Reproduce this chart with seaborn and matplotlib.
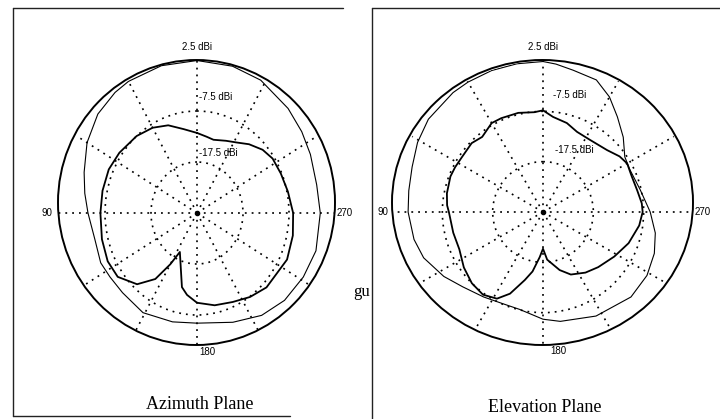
import numpy as np
import pandas as pd
import matplotlib
matplotlib.use("Agg")
import matplotlib.pyplot as plt
import seaborn as sns
from matplotlib.lines import Line2D
from matplotlib.patches import Ellipse

# ---------------- data (dBi, angle in degrees, 0 = top, counter-clockwise) ----------------
az_outer_deg = [0, 15, 30, 37, 48, 60, 72, 81, 90, 103, 115, 123.5, 134, 149, 166, 180, 200, 215,
                228, 241.5, 254, 270, 282, 295, 305, 316, 332, 345, 360]
az_outer_dbi = [2.4, 2.4, 2.3, 2.1, 1.5, 0.1, -1.7, -2.8, -3.8, -4.7, -4.4, -4.8, -5.0, -4.7, -5.5, -5.9,
                -4.7, -3.0, -1.9, -1.2, -0.6, -0.7, -0.9, -0.3, 0.3, 1.0, 2.0, 2.3, 2.4]

az_inner_deg = [0, 10, 20, 30, 41, 55, 66, 78, 90, 104, 116, 126, 137, 145, 150, 154, 162.6, 167.3,
                172.3, 180, 192, 204, 215, 226, 245, 258, 270, 282, 293, 303, 311, 320, 328, 336,
                346, 352, 360]
az_inner_dbi = [-11.8, -10.8, -9.2, -8.2, -7.5, -6.9, -6.5, -6.5, -6.5, -6.2, -5.9, -6.2, -8.4, -11.7,
                -15.9, -19.0, -15.8, -12.6, -11.3, -9.9, -9.0, -8.4, -7.4, -6.5, -5.9, -6.2, -6.6,
                -7.3, -7.7, -7.9, -8.6, -9.9, -11.2, -12.0, -12.7, -12.4, -11.8]

el_outer_deg = [0, 10, 20, 30, 37, 51, 61, 71, 81, 90, 102, 111, 123, 133, 145, 156, 166.5, 180, 189,
                207, 226, 238.6, 249.6, 259.4, 270, 283, 296, 304, 313, 322, 330, 338, 348, 355, 360]
el_outer_dbi = [2.4, 2.4, 2.4, 2.3, 2.2, 1.8, 1.0, 0.0, -0.5, -0.7, -1.3, -2.1, -4.0, -5.7, -6.9, -7.6,
                -7.6, -6.2, -5.5, -4.3, -3.2, -3.3, -3.9, -4.8, -6.2, -7.7, -8.3, -7.9, -5.7, -3.5,
                -1.1, 0.8, 1.3, 2.0, 2.4]

el_inner_deg = [0, 5, 14, 24, 30, 39, 46, 56, 63, 69, 79, 86, 90, 103, 114, 125, 135, 144, 152, 158,
                165, 170, 175.8, 180, 185, 196, 204, 215, 225, 238, 250, 262, 270, 275, 283, 292,
                300, 306, 314, 327, 337, 345, 354, 360]
el_inner_dbi = [-7.3, -7.6, -7.2, -7.1, -7.1, -8.3, -7.8, -8.05, -7.9, -7.8, -8.05, -8.4, -8.8, -9.2,
                -9.3, -8.3, -7.5, -7.2, -8.0, -10.0, -13.5, -15.5, -18.5, -20.2, -18.0, -15.5, -13.9,
                -12.8, -12.0, -10.8, -9.4, -8.2, -7.7, -7.8, -8.3, -8.5, -8.2, -8.7, -9.8, -10.4,
                -10.2, -9.2, -8.5, -7.3]

ring_labels = ["2.5 dBi", "-7.5 dBi", "-17.5 dBi"]
angle_labels = ["90", "180", "270"]
titles = ["Azimuth Plane", "Elevation Plane"]

DB_MIN = -27.5  # value at the centre of the plot
DB_MAX = 2.5    # outer ring

# ---------------- figure ----------------
sns.set_theme(style="white")
plt.rcParams["font.family"] = ["Liberation Sans", "DejaVu Sans"]

W, H = 720, 419
fig = plt.figure(figsize=(W / 100, H / 100), dpi=100)
fig.patch.set_facecolor("white")


def rect(x0, y0, x1, y1):
    return [x0 / W, 1 - y1 / H, (x1 - x0) / W, (y1 - y0) / H]


def ftext(x, y, s, **kw):
    base = dict(fontsize=7, color="black")
    base.update(kw)
    fig.text(x / W, 1 - y / H, s, **base)


def panel(box, rim, o_deg, o_val, i_deg, i_val):
    ax = fig.add_axes(box, projection="polar")
    ax.set_aspect("auto")
    ax.set_facecolor("none")
    ax.set_theta_zero_location("N")
    ax.set_theta_direction(1)
    ax.set_ylim(0, DB_MAX - DB_MIN)
    ax.set_rticks([10, 20])
    ax.set_yticklabels([])
    ax.set_xticks([])
    ax.spines["polar"].set_visible(False)
    ax.yaxis.grid(True, color="black", linestyle=(0, (1.1, 3.0)), linewidth=1.2)
    ax.xaxis.grid(False)

    # outer (2.5 dBi) rim as drawn in the scanned plot
    cx, cy, w, h = rim
    ell = Ellipse((cx / W, 1 - cy / H), w / W, h / H, transform=fig.transFigure,
                  fill=False, edgecolor="black", linewidth=1.4, zorder=2)
    fig.add_artist(ell)

    # dotted spokes every 30 degrees, clipped at the rim
    for a in range(0, 360, 30):
        ln, = ax.plot([np.deg2rad(a)] * 2, [0, DB_MAX - DB_MIN], color="black",
                      linestyle=(0, (1.1, 3.0)), linewidth=1.2)
        ln.set_clip_path(ell)

    df_o = pd.DataFrame({"theta": np.deg2rad(o_deg), "r": np.array(o_val) - DB_MIN})
    df_i = pd.DataFrame({"theta": np.deg2rad(i_deg), "r": np.array(i_val) - DB_MIN})
    sns.lineplot(data=df_o, x="theta", y="r", sort=False, estimator=None,
                 color="black", linewidth=0.8, ax=ax)
    sns.lineplot(data=df_i, x="theta", y="r", sort=False, estimator=None,
                 color="black", linewidth=1.3, ax=ax)
    ax.plot([0], [0], marker="o", color="black", markersize=3)
    ax.set_xlabel("")
    ax.set_ylabel("")
    return ax


panel(rect(59, 60, 335, 366), (196.5, 202.5, 277, 285),
      az_outer_deg, az_outer_dbi, az_inner_deg, az_inner_dbi)
panel(rect(392, 61, 694, 363), (542.5, 202.5, 301, 285),
      el_outer_deg, el_outer_dbi, el_inner_deg, el_inner_dbi)

# ring / angle labels, left panel
ftext(197, 47, ring_labels[0], ha="center", va="center")
ftext(199, 97, ring_labels[1], ha="left", va="center")
ftext(199, 153, ring_labels[2], ha="left", va="center")
ftext(52, 213, angle_labels[0], ha="right", va="center")
ftext(199, 347, angle_labels[1], ha="left", va="top")
ftext(337, 213, angle_labels[2], ha="left", va="center")
# ring / angle labels, right panel
ftext(543, 47, ring_labels[0], ha="center", va="center")
ftext(553, 95, ring_labels[1], ha="left", va="center")
ftext(555, 150, ring_labels[2], ha="left", va="center")
ftext(388, 212, angle_labels[0], ha="right", va="center")
ftext(550, 346, angle_labels[1], ha="left", va="top")
ftext(695, 212, angle_labels[2], ha="left", va="center")

# titles
ftext(200, 404, titles[0], ha="center", va="center", fontsize=13,
      family=["Liberation Serif", "DejaVu Serif"])
ftext(545, 407, titles[1], ha="center", va="center", fontsize=13,
      family=["Liberation Serif", "DejaVu Serif"])
# fragment of scanned page text between the panels
ftext(370, 292, "gu", ha="right", va="center", fontsize=12,
      family=["Liberation Serif", "DejaVu Serif"])


# scan frame lines
def fline(x0, y0, x1, y1, lw=1.0):
    fig.add_artist(Line2D([x0 / W, x1 / W], [1 - y0 / H, 1 - y1 / H],
                          transform=fig.transFigure, color="#222222", linewidth=lw))


fline(13, 8, 343, 8)
fline(13, 8, 13, 416)
fline(13, 416, 290, 416)
fline(372, 8, 372, 419)
fline(372, 8, 720, 8)

fig.savefig("out.png", dpi=100, facecolor="white")
